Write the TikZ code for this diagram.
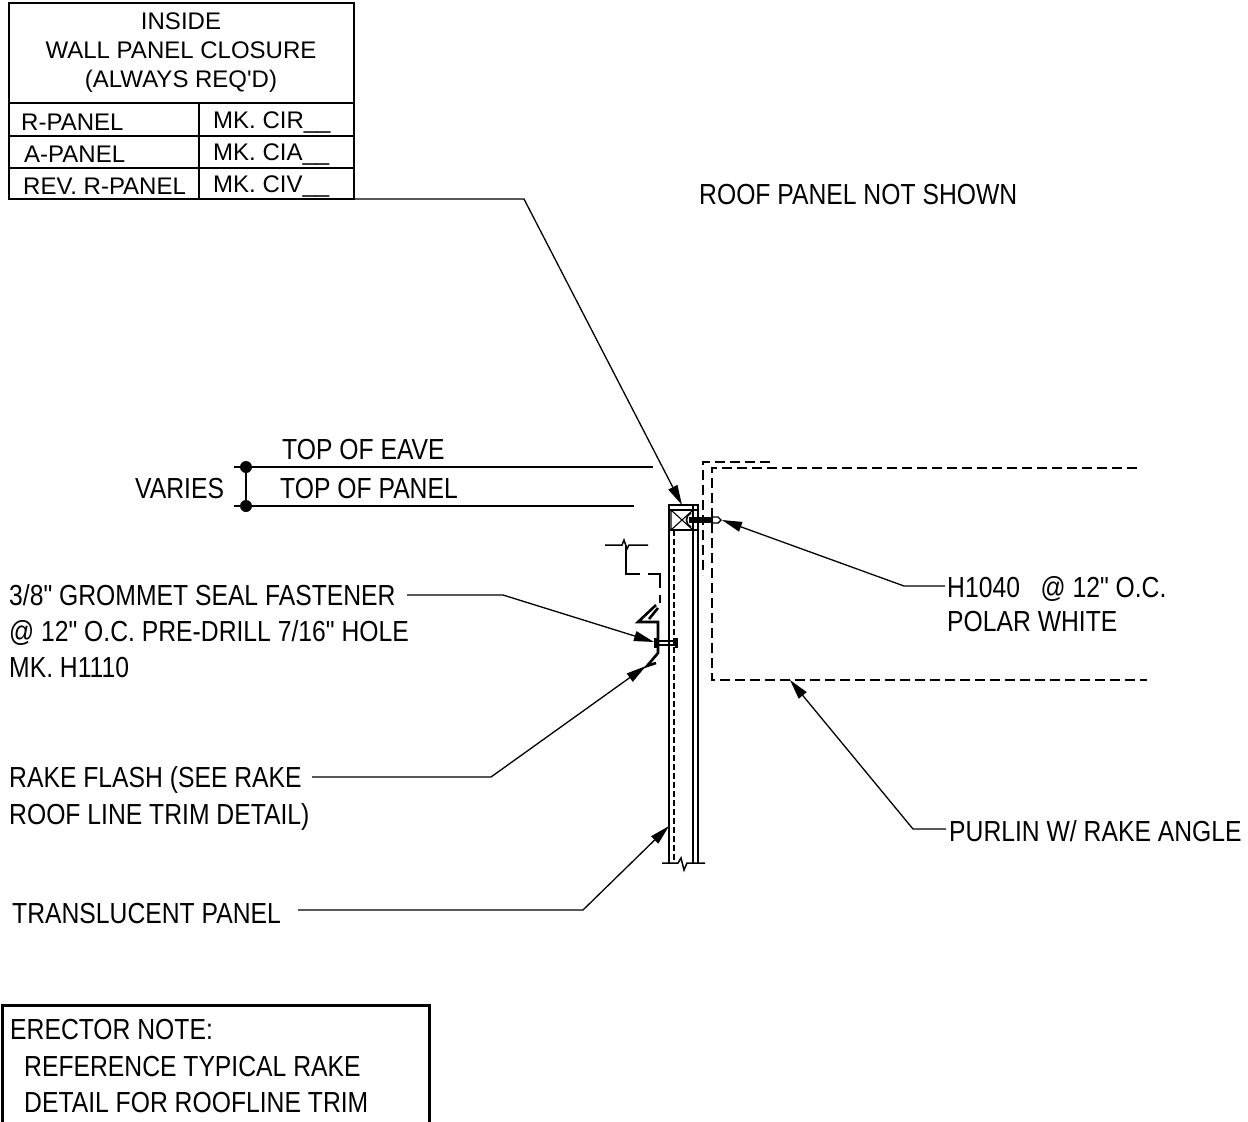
\documentclass[tikz,border=0pt]{standalone}
\usepackage{fontspec}
\newfontfamily\lblfont[FakeStretch=0.852]{Liberation Sans}
\newfontfamily\tblfont{Liberation Sans}
\usetikzlibrary{arrows.meta}
\tikzset{
 lbl/.style={inner sep=0pt,anchor=base west,font=\lblfont\fontsize{29}{29}\selectfont},
 tbl/.style={inner sep=0pt,anchor=base west,font=\tblfont\fontsize{24}{24}\selectfont},
 tblc/.style={tbl,anchor=base},
 wire/.style={line width=1.5pt},
 lead/.style={line width=1.3pt,-{Triangle[length=20pt,width=10pt]}},
 dash1/.style={line width=1.5pt,dash pattern=on 10pt off 5pt},
 dash2/.style={line width=1.2pt,dash pattern=on 6pt off 3pt},
}
\begin{document}
\begin{tikzpicture}[x=1pt,y=-1pt]
\useasboundingbox (0,0) rectangle (1248,1122);
% table
\draw[line width=1.8pt] (9,3) rectangle (354,199);
\draw[line width=1.8pt] (9,103) -- (354,103) (9,136) -- (354,136) (9,168) -- (354,168) (199,103) -- (199,199);
\node[tblc] (t1) at (181,29) {INSIDE};
\node[tblc] (t2) at (181,58) {WALL PANEL CLOSURE};
\node[tblc] (t3) at (181,87) {(ALWAYS REQ'D)};
\node[tbl] (r1) at (21,130) {R-PANEL};
\node[tbl] (r2) at (24,162) {A-PANEL};
\node[tbl] (r3) at (23,194) {REV. R-PANEL};
\node[tbl] (m1) at (213,128) {MK. CIR\_\_};
\node[tbl] (m2) at (213,160) {MK. CIA\_\_};
\node[tbl] (m3) at (213,192) {MK. CIV\_\_};
% labels
\node[lbl] (roof) at (699,204) {ROOF PANEL NOT SHOWN};
\node[lbl] (eave) at (282,459) {TOP OF EAVE};
\node[lbl] (panel) at (280,498) {TOP OF PANEL};
\node[lbl] (varies) at (135,498) {VARIES};
\node[lbl] (g1) at (9,605) {3/8" GROMMET SEAL FASTENER};
\node[lbl] (g2) at (9,641) {@ 12" O.C. PRE-DRILL 7/16" HOLE};
\node[lbl] (g3) at (9,677) {MK. H1110};
\node[lbl] (rk1) at (9,787) {RAKE FLASH (SEE RAKE};
\node[lbl] (rk2) at (9,824) {ROOF LINE TRIM DETAIL)};
\node[lbl] (tr) at (12,923) {TRANSLUCENT PANEL};
\node[lbl] (h1) at (947,597) {H1040\ \ \ @ 12" O.C.};
\node[lbl] (h2) at (947,631) {POLAR WHITE};
\node[lbl] (pur) at (949,841) {PURLIN W/ RAKE ANGLE};
\node[lbl] (e1) at (10,1039) {ERECTOR NOTE:};
\node[lbl] (e2) at (24,1076) {REFERENCE TYPICAL RAKE};
\node[lbl] (e3) at (24,1112) {DETAIL FOR ROOFLINE TRIM};
\draw[line width=3pt] (2,1130) -- (2,1005) -- (429,1005) -- (429,1130);
% dimension lines
\coordinate (ea) at (246,467); \coordinate (pa) at (246,506);
\draw[wire] (234,467) -- (653,467) (234,506) -- (634,506);
\draw[wire] (ea) -- (pa);
\fill (ea) circle (6pt) (pa) circle (6pt);
% wall panel
\draw[line width=1.8pt] (669,863) -- (669,505) -- (698,505) -- (698,863);
\draw[line width=1.6pt] (693,505) -- (693,863);
\draw[line width=1.5pt] (669,510) -- (698,510) (669,530) -- (698,530);
\draw[line width=1.1pt] (671,510) -- (671,530) (671,510) -- (693,530) (671,530) -- (693,510);
\draw[dash2] (674,530) -- (674,863);
\draw[line width=1.5pt] (662,863) -- (678,863) -- (681,858) -- (684,870) -- (687,863) -- (705,863);
% purlin
\draw[dash1] (770,462) -- (703,462) -- (703,575);
\draw[dash1] (1137,468) -- (712,468) -- (712,680) -- (1147,680);
% fastener H1040
\draw[line width=6pt] (689,520) -- (713,520);
\draw[line width=1.6pt] (691,513) .. controls (685,515) and (685,525) .. (691,527);
\draw[line width=1.4pt] (713,517) -- (718,517) -- (721,520) -- (718,523) -- (713,523);
% flash
\draw[line width=1.5pt] (605,545) -- (622,545) -- (624,540) -- (627,549) -- (629,545) -- (648,545);
\draw[line width=2pt] (626,545) -- (626,574) -- (640,574);
\draw[line width=2pt] (648,574) -- (660,574) -- (660,588);
\draw[line width=2pt] (660,595) -- (660,603);
\draw[line width=2.6pt] (656,605) -- (638,622) -- (658,622) -- (658,653) -- (647,666) -- (656,663);
\draw[line width=2.6pt] (658,608) -- (649,619);
% grommet
\draw[line width=4pt] (656,638) -- (656,648);
\draw[line width=1.4pt] (657,641) -- (676,641) (657,645) -- (676,645);
\draw[line width=3pt] (676,638) -- (676,648);
% leaders
\coordinate (tipA) at (682,505);
\coordinate (tipB) at (722,520);
\coordinate (tipC) at (654,642);
\coordinate (tipD) at (646,666);
\coordinate (tipE) at (669,826);
\coordinate (tipF) at (790,680);
\draw[lead] (354,199) -- (524,199) -- (tipA);
\draw[lead] (945,586) -- (904,586) -- (tipB);
\draw[lead] (407,595) -- (503,595) -- (tipC);
\draw[lead] (312,777) -- (491,777) -- (tipD);
\draw[lead] (298,910) -- (583,910) -- (tipE);
\draw[lead] (946,829) -- (913,829) -- (tipF);
\end{tikzpicture}
\end{document}
